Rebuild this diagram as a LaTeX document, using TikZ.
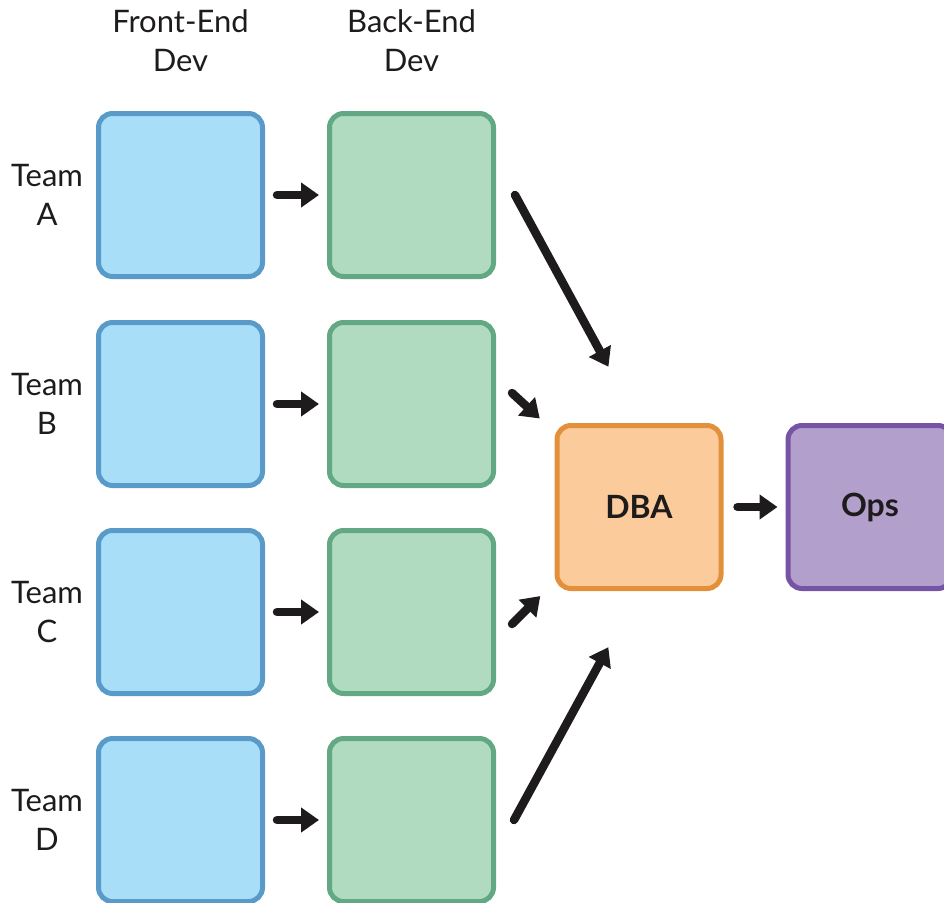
\documentclass[tikz,border=0pt]{standalone}
\usepackage{fontspec}
\setmainfont{Lato}
\usetikzlibrary{arrows.meta}

\definecolor{feFill}{HTML}{A9DEF9}
\definecolor{feLine}{HTML}{5A9AC9}
\definecolor{beFill}{HTML}{B1DBC1}
\definecolor{beLine}{HTML}{62A882}
\definecolor{dbaFill}{HTML}{FCCB9C}
\definecolor{dbaLine}{HTML}{E3903A}
\definecolor{opsFill}{HTML}{B39FCC}
\definecolor{opsLine}{HTML}{7653A5}
\definecolor{ink}{HTML}{1E1B1C}

\tikzset{
  stage/.style={rectangle, rounded corners=14pt, line width=5pt,
    minimum width=164pt, minimum height=163pt, text=ink},
  front/.style={stage, draw=feLine, fill=feFill},
  back/.style={stage, draw=beLine, fill=beFill},
  dba/.style={stage, draw=dbaLine, fill=dbaFill, font=\fontsize{32}{38}\selectfont\bfseries},
  ops/.style={stage, draw=opsLine, fill=opsFill, font=\fontsize{32}{38}\selectfont\bfseries},
  teamtext/.style={align=center, text=ink},
  flow/.style={draw=ink, line width=8.5pt, line cap=round,
    -{Triangle[width=24pt,length=18pt]}}
}

\begin{document}
\begin{tikzpicture}[x=1pt, y=-1pt, font=\fontsize{31}{39}\selectfont]
    \useasboundingbox (0,0) rectangle (944,902);

    % 1. Front-end and back-end boxes, one row per team
    \foreach \t/\y in {A/195,B/404,C/612,D/820}{
        \node[front] (F\t) at (180.5,\y) {};
        \node[back] (B\t) at (411.5,\y) {};
        \node[teamtext] (T\t) at ([xshift=-49pt]F\t.west) {Team\\\t};
        \draw[flow, shorten <=12pt, shorten >=8pt] (F\t) -- (B\t);
    }

    % 2. Column headers
    \node[teamtext] (hF) at ([yshift=70pt]FA.north) {Front-End\\Dev};
    \node[teamtext] (hB) at ([yshift=70pt]BA.north) {Back-End\\Dev};

    % 3. DBA and Ops
    \node[dba] (DBA) at (639,507) {DBA};
    \node[ops] (Ops) at (870,507) {Ops};

    % 4. Hand-offs into the DBA
    \draw[flow, shorten >=64pt] ([xshift=19pt]BA.east) -- (DBA.north);
    \draw[flow, shorten >=20pt] ([xshift=16pt,yshift=11pt]BB.east) -- ([yshift=-9pt]DBA.north west);
    \draw[flow, shorten >=20pt] ([xshift=16pt,yshift=-12pt]BC.east) -- ([yshift=9pt]DBA.south west);
    \draw[flow, shorten >=64pt] ([xshift=18pt]BD.east) -- (DBA.south);

    % 5. DBA hands over to Ops
    \draw[flow, shorten <=14pt, shorten >=8pt] (DBA) -- (Ops);

\end{tikzpicture}
\end{document}
